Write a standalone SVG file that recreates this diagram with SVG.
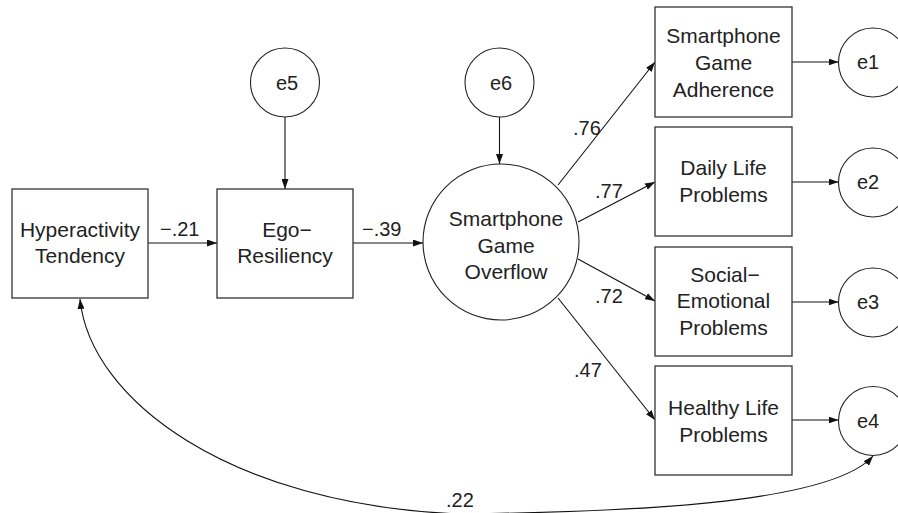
<svg xmlns="http://www.w3.org/2000/svg" width="898" height="513" viewBox="0 0 898 513">
<style>
  .box { fill: #ffffff; stroke: #333333; stroke-width: 1.3; }
  .circ { fill: #ffffff; stroke: #222222; stroke-width: 1.1; }
  .node { font-family: "Liberation Sans", Arial, sans-serif; font-size: 21px; fill: #222222; text-anchor: middle; }
  .lbl { font-family: "Liberation Sans", Arial, sans-serif; font-size: 20px; fill: #222222; }
  .elbl { font-family: "Liberation Sans", Arial, sans-serif; font-size: 20px; fill: #222222; text-anchor: middle; }
  .edge { fill: none; stroke: #111111; stroke-width: 1.1; marker-end: url(#arr); }
</style>
<defs>
  <marker id="arr" markerUnits="userSpaceOnUse" markerWidth="10" markerHeight="7" refX="10" refY="3.5" orient="auto">
    <path d="M0,0 L10,3.5 L0,7 z" fill="#111111"/>
  </marker>
  <marker id="arrStart" markerUnits="userSpaceOnUse" markerWidth="10" markerHeight="7" refX="0" refY="3.5" orient="auto">
    <path d="M10,0 L0,3.5 L10,7 z" fill="#111111"/>
  </marker>
</defs>
<rect width="898" height="513" fill="#ffffff"/>

<g id="connectors">
  <line class="edge" x1="148" y1="243" x2="217" y2="243"/>
  <line class="edge" x1="353" y1="243" x2="423" y2="243"/>
  <line class="edge" x1="285" y1="117" x2="285" y2="189"/>
  <line class="edge" x1="499.5" y1="117" x2="499.5" y2="164"/>
  <line class="edge" x1="558" y1="185" x2="655" y2="62"/>
  <line class="edge" x1="578" y1="222" x2="655" y2="182"/>
  <line class="edge" x1="578" y1="259" x2="655" y2="301"/>
  <line class="edge" x1="558" y1="298" x2="655" y2="420"/>
  <line class="edge" x1="792" y1="62" x2="838.5" y2="62"/>
  <line class="edge" x1="792" y1="182" x2="838.5" y2="182"/>
  <line class="edge" x1="792" y1="302" x2="838.5" y2="302"/>
  <line class="edge" x1="792" y1="420" x2="838.5" y2="420"/>
  <path class="edge" marker-start="url(#arrStart)" d="M80,299 C90,400 230,505 460,514 C620,512 830,505 873,456"/>
  <text class="lbl" x="160" y="236">−.21</text>
  <text class="lbl" x="362" y="236">−.39</text>
  <text class="lbl" x="573" y="135">.76</text>
  <text class="lbl" x="595" y="198">.77</text>
  <text class="lbl" x="595" y="303">.72</text>
  <text class="lbl" x="574" y="377">.47</text>
  <text class="lbl" x="446" y="507">.22</text>
</g>

<g id="hyperactivity">
  <rect class="box" x="12" y="189" width="136" height="109"/>
  <text class="node" x="80" y="237">Hyperactivity</text>
  <text class="node" x="80" y="263">Tendency</text>
</g>
<g id="ego">
  <rect class="box" x="217" y="189" width="136" height="109"/>
  <text class="node" x="287" y="237">Ego−</text>
  <text class="node" x="285" y="263">Resiliency</text>
</g>
<g id="e5">
  <circle class="circ" cx="285" cy="82.5" r="34.5"/>
  <text class="elbl" x="287" y="90">e5</text>
</g>
<g id="e6">
  <circle class="circ" cx="499.5" cy="82.5" r="34.5"/>
  <text class="elbl" x="501" y="90">e6</text>
</g>
<g id="overflow">
  <circle class="circ" cx="501" cy="242" r="78"/>
  <text class="node" x="506" y="226">Smartphone</text>
  <text class="node" x="506" y="253">Game</text>
  <text class="node" x="506" y="279">Overflow</text>
</g>
<g id="adherence">
  <rect class="box" x="655" y="7" width="137" height="110"/>
  <text class="node" x="723.5" y="43">Smartphone</text>
  <text class="node" x="723.5" y="70">Game</text>
  <text class="node" x="723.5" y="97">Adherence</text>
</g>
<g id="daily">
  <rect class="box" x="655" y="127" width="137" height="109"/>
  <text class="node" x="723.5" y="175">Daily Life</text>
  <text class="node" x="723.5" y="202">Problems</text>
</g>
<g id="social">
  <rect class="box" x="655" y="247" width="137" height="109"/>
  <text class="node" x="725" y="282">Social−</text>
  <text class="node" x="723.5" y="308">Emotional</text>
  <text class="node" x="723.5" y="335">Problems</text>
</g>
<g id="healthy">
  <rect class="box" x="655" y="366" width="137" height="109"/>
  <text class="node" x="723.5" y="415">Healthy Life</text>
  <text class="node" x="723.5" y="442">Problems</text>
</g>
<g id="e1">
  <circle class="circ" cx="873" cy="62.5" r="34.5"/>
  <text class="elbl" x="868" y="69">e1</text>
</g>
<g id="e2">
  <circle class="circ" cx="873" cy="182.5" r="34.5"/>
  <text class="elbl" x="868" y="189">e2</text>
</g>
<g id="e3">
  <circle class="circ" cx="873" cy="302.5" r="34.5"/>
  <text class="elbl" x="868" y="309">e3</text>
</g>
<g id="e4">
  <circle class="circ" cx="873" cy="421" r="34.5"/>
  <text class="elbl" x="868" y="428">e4</text>
</g>
</svg>
